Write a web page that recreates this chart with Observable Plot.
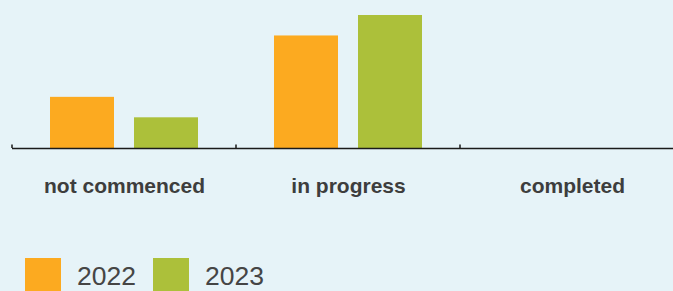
<!DOCTYPE html>
<html>
<head>
<meta charset="utf-8">
<script src="https://cdn.jsdelivr.net/npm/d3@7"></script>
<script src="https://cdn.jsdelivr.net/npm/@observablehq/plot@0.6"></script>
<style>
  html, body { margin: 0; padding: 0; background: #e6f3f8; overflow: hidden; width: 673px; }
  #chart svg { display: block; background: #e6f3f8; max-width: none !important; height: 210px !important; }
  #legend { display: flex; align-items: center; margin-top: 48px; margin-left: 25px;
            font-family: "Liberation Sans", Arial, sans-serif; font-size: 26.5px; color: #454545; }
  .sw { width: 36px; height: 36px; flex: none; }
  .lab { margin-left: 16px; margin-right: 17px; }
</style>
</head>
<body>
<div id="chart"></div>
<div id="legend"></div>
<script>
const categories = ["not commenced", "in progress", "completed"];
const years = ["2022", "2023"];
const values2022 = [5, 11, 0];
const values2023 = [3, 13, 0];
const colors = ["#fcaa20", "#acc03a"];

const data = [];
categories.forEach((c, i) => {
  data.push({category: c, year: "2022", value: values2022[i]});
  data.push({category: c, year: "2023", value: values2023[i]});
});

const plot = Plot.plot({
  width: 684,
  height: 210,
  marginLeft: 12,
  marginRight: 0,
  marginTop: 15,
  marginBottom: 62,
  style: {background: "#e6f3f8", fontFamily: "Liberation Sans, Arial, sans-serif", maxWidth: "none"},
  fx: {domain: categories, padding: 0, axis: null},
  x: {domain: years, paddingInner: 0.238, paddingOuter: 0.452, axis: null},
  y: {domain: [0, 13], axis: null},
  color: {domain: years, range: colors},
  marks: [
    Plot.barY(data, {fx: "category", x: "year", y: "value", fill: "year"}),
    Plot.ruleY([0], {stroke: "#1a1a1a", strokeWidth: 1.5}),
    Plot.axisFx({anchor: "bottom", tickSize: 0, tickPadding: 30, fontSize: 21, fontWeight: "bold", fill: "#3d3d3d", label: null})
  ]
});
document.getElementById("chart").appendChild(plot);

// boundary ticks at the start of each category band, from the library's scales
const fx = plot.scale("fx");
const y = plot.scale("y");
const y0 = y.apply(0);
const svg = d3.select(plot);
categories.forEach(c => {
  const xp = fx.apply(c);
  svg.append("line")
    .attr("x1", xp).attr("x2", xp)
    .attr("y1", y0 - 3.5).attr("y2", y0)
    .attr("stroke", "#1a1a1a").attr("stroke-width", 1.5);
});

// legend
const color = plot.scale("color");
const legend = document.getElementById("legend");
color.domain.forEach((yr, i) => {
  const sw = document.createElement("div");
  sw.className = "sw";
  sw.style.background = color.range[i];
  const lab = document.createElement("span");
  lab.className = "lab";
  lab.textContent = yr;
  legend.appendChild(sw);
  legend.appendChild(lab);
});
</script>
</body>
</html>
